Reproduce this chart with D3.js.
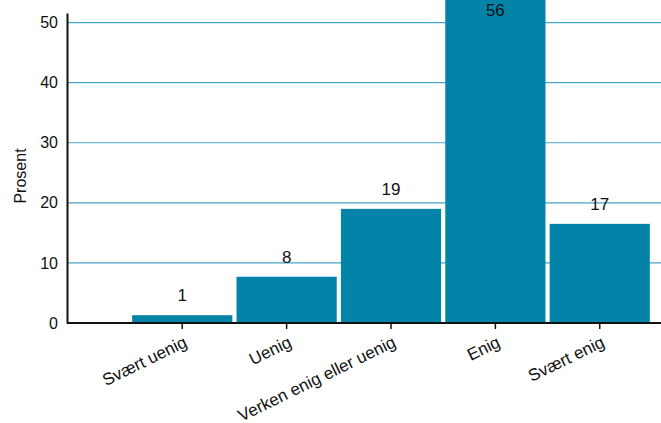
<!DOCTYPE html>
<html><head><meta charset="utf-8">
<script src="https://cdn.jsdelivr.net/npm/d3@7"></script>
<style>body{margin:0;background:#fff}svg{display:block;font-family:"Liberation Sans",Arial,sans-serif}</style>
</head><body><div id="chart"></div>
<script>
const categories = ["Svært uenig","Uenig","Verken enig eller uenig","Enig","Svært enig"];
const values = [1.3, 7.7, 19.0, 56, 16.5];
const valueLabels = ["1","8","19","56","17"];
const yTicks = [0,10,20,30,40,50];
const yTitle = "Prosent";

const W = 661, H = 423;
const svg = d3.select("#chart").append("svg").attr("width", W).attr("height", H);
const x0 = 67, x1 = 661, yBottom = 323, yTop = 13;
const x = d3.scaleBand().domain(categories).range([128, 654]).padding(0.04);
const y = d3.scaleLinear().domain([0, 51.6]).range([yBottom, yTop]);

// gridlines
svg.append("g").selectAll("line").data(yTicks.filter(d => d > 0)).join("line")
  .attr("x1", x0).attr("x2", x1).attr("y1", d => y(d)).attr("y2", d => y(d))
  .attr("stroke", "#47a6c6").attr("stroke-width", 1.2);

// bars
svg.append("g").selectAll("rect").data(values).join("rect")
  .attr("x", (d,i) => x(categories[i])).attr("width", x.bandwidth())
  .attr("y", d => y(d)).attr("height", d => yBottom - y(d))
  .attr("fill", "#0383a8");

// value labels
svg.append("g").selectAll("text").data(values).join("text")
  .attr("x", (d,i) => x(categories[i]) + x.bandwidth()/2)
  .attr("y", d => Math.max(y(d) - 14, 16))
  .attr("text-anchor", "middle").attr("font-size", 17).attr("fill", "#111")
  .text((d,i) => valueLabels[i]);

// y axis
const ya = svg.append("g").attr("transform", `translate(${x0},0)`)
  .call(d3.axisLeft(y).tickValues(yTicks).tickSize(0).tickPadding(9));
ya.select(".domain").attr("stroke", "#111").attr("stroke-width", 2);
ya.selectAll("text").attr("font-size", 16).attr("fill", "#111").attr("font-family", "Liberation Sans, Arial, sans-serif");

// x axis
svg.append("line").attr("x1", x0).attr("x2", x1).attr("y1", yBottom).attr("y2", yBottom)
  .attr("stroke", "#111").attr("stroke-width", 2);
const xt = svg.append("g").selectAll("g").data(categories).join("g")
  .attr("transform", d => `translate(${x(d) + x.bandwidth()/2},${yBottom})`);
xt.append("line").attr("y1", 0).attr("y2", 6).attr("stroke", "#111").attr("stroke-width", 1.5);
xt.append("text").attr("text-anchor", "end").attr("font-size", 17).attr("fill", "#111")
  .attr("transform", "translate(6,23) rotate(-26)")
  .text(d => d);

// y title
svg.append("text").attr("transform", "translate(26,176) rotate(-90)")
  .attr("text-anchor", "middle").attr("font-size", 16).attr("fill", "#111").text(yTitle);
</script></body></html>
